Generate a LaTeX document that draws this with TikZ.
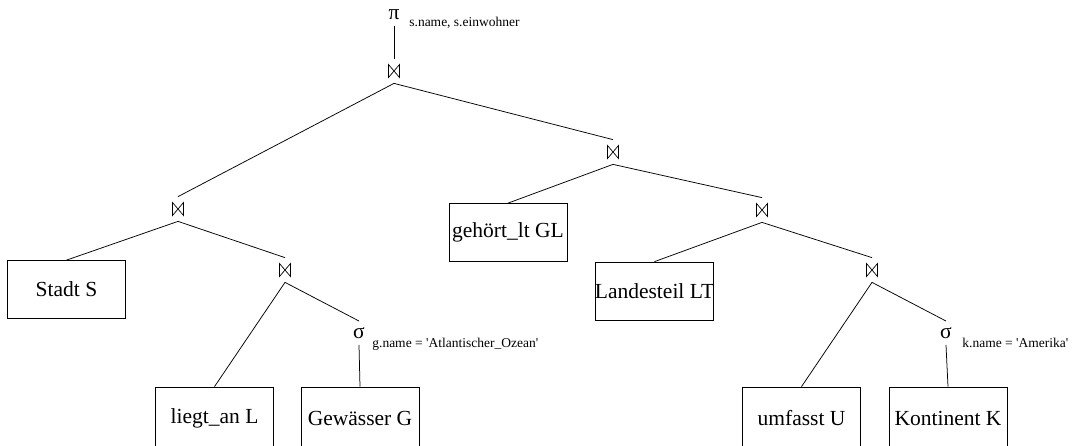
\documentclass[tikz,border=0pt]{standalone}
\usepackage{fontspec}
\setmainfont{Liberation Serif}
\begin{document}
\begin{tikzpicture}[x=1pt,y=-1pt, line width=0.75pt,
  big/.style={font=\fontsize{21.5}{24}\selectfont},
  lbl/.style={font=\fontsize{13.5}{15}\selectfont, inner sep=0pt, anchor=base west},
  rel/.style={draw, minimum width=118pt, minimum height=58pt, inner sep=0pt, big},
  relb/.style={rel, minimum height=62pt},
  op/.style={big, inner xsep=2pt, inner ysep=6pt},
  jn/.style={minimum width=14pt, minimum height=24pt, inner sep=0pt,
    path picture={\draw[line width=0.7pt]
      ([xshift=-5.5pt,yshift=6.5pt]path picture bounding box.center) -- ++(0pt,-13pt)
      -- ++(11pt,13pt) -- ++(0pt,-13pt) -- cycle;}}]
\useasboundingbox (0,0) rectangle (1072,445);
% operators
\node[op] (pi) at (394,15) {π};
\node[lbl] (pil) at (409,26) {s.name, s.einwohner};
\node[jn] (j1) at (394,71) {};
\node[jn] (j2) at (178,209) {};
\node[jn] (j3) at (285,270) {};
\node[jn] (j4) at (613,152) {};
\node[jn] (j5) at (762,210) {};
\node[jn] (j6) at (872,270) {};
\node[op] (s1) at (359,333) {σ};
\node[lbl] (s1l) at (372,347) {g.name = \textquotesingle Atlantischer\_Ozean\textquotesingle};
\node[op] (s2) at (946,333) {σ};
\node[lbl] (s2l) at (962,347) {k.name = \textquotesingle Amerika\textquotesingle};
% relations
\node[rel] (stadt) at (66.5,289.5) {\makebox[0pt]{Stadt S}};
\node[rel] (gl) at (508,232.5) {\makebox[0pt]{gehört\_lt GL}};
\node[rel] (lt) at (654.5,291) {\makebox[0pt]{Landesteil LT}};
\node[relb] (l) at (214.5,418) {\makebox[0pt]{liegt\_an L}};
\node[relb] (g) at (360,418) {\makebox[0pt]{Gewässer G}};
\node[relb] (u) at (801.5,418) {\makebox[0pt]{umfasst U}};
\node[relb] (k) at (948,418) {\makebox[0pt]{Kontinent K}};
% connectors
\draw (pi.south) -- (j1.north);
\draw (j1.south) -- (j2.north);
\draw (j1.south) -- (j4.north);
\draw (j2.south) -- (stadt.north);
\draw (j2.south) -- (j3.north);
\draw (j3.south) -- (l.north);
\draw (j3.south) -- (s1.north);
\draw (s1.south) -- (g.north);
\draw (j4.south) -- (gl.north);
\draw (j4.south) -- (j5.north);
\draw (j5.south) -- (lt.north);
\draw (j5.south) -- (j6.north);
\draw (j6.south) -- (u.north);
\draw (j6.south) -- (s2.north);
\draw (s2.south) -- (k.north);
\end{tikzpicture}
\end{document}
